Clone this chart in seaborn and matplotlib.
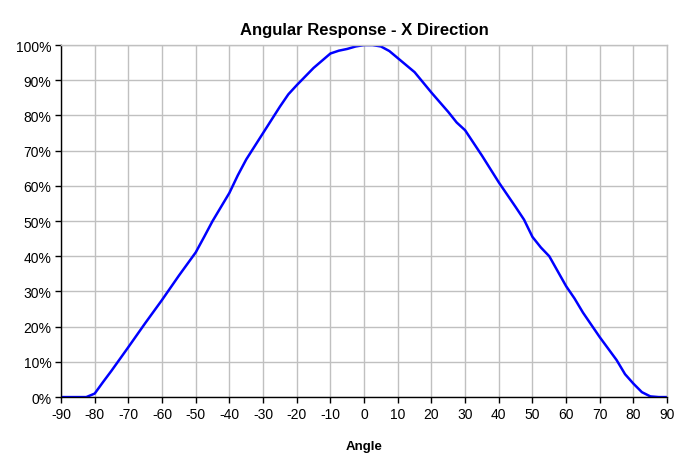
import numpy as np
import pandas as pd
import matplotlib
matplotlib.use("Agg")
import matplotlib.pyplot as plt
import seaborn as sns
from matplotlib.ticker import FuncFormatter, MultipleLocator

# Angular response (angle in degrees, response in %)
angles = [-90, -85, -82.5, -80, -77.5, -75, -70, -65, -60, -55, -50, -47.5,
          -45, -40, -37.5, -35, -30, -25, -22.5, -20, -15, -10, -7.5, -5,
          -2.5, 0, 2.5, 5, 7.5, 10, 15, 20, 25, 27.5, 30, 35, 40, 45, 47.5,
          50, 52.5, 55, 60, 62.5, 65, 70, 75, 77.5, 80, 82.5, 85, 87.5, 90]
response = [0, 0, 0, 1.0, 4.3, 7.5, 14.2, 21, 27.6, 34.5, 41.1, 45.5,
            50, 58, 63, 67.5, 75, 82.5, 86, 88.6, 93.5, 97.6, 98.4, 98.9,
            99.6, 100, 100, 99.6, 98.3, 96.3, 92.3, 86.5, 81, 78, 75.8, 68.6,
            61, 54, 50.4, 45.5, 42.5, 40, 31.5, 28, 24, 17, 10.5, 6.5, 3.8,
            1.4, 0.2, 0, 0]

df = pd.DataFrame({"Angle": angles, "Response": response})

sns.set_theme(style="white")
plt.rcParams["font.family"] = ["Liberation Sans", "DejaVu Sans"]
plt.rcParams["axes.unicode_minus"] = False
plt.rcParams["text.color"] = "black"
plt.rcParams["xtick.color"] = "black"
plt.rcParams["ytick.color"] = "black"
plt.rcParams["axes.labelcolor"] = "black"

fig = plt.figure(figsize=(6.78, 4.56), dpi=100)
ax = fig.add_axes([0.09, 0.127, 0.894, 0.772])

sns.lineplot(data=df, x="Angle", y="Response", color="#0000FF", linewidth=1.8, ax=ax)

ax.set_xlim(-90, 90)
ax.set_ylim(0, 100)
ax.xaxis.set_major_locator(MultipleLocator(10))
ax.yaxis.set_major_locator(MultipleLocator(10))
ax.yaxis.set_major_formatter(FuncFormatter(lambda v, p: f"{v:.0f}%"))

ax.grid(True, color="#c0c0c0", linewidth=1.0)
ax.set_axisbelow(True)
for side in ["top", "right"]:
    ax.spines[side].set_color("#c0c0c0")
    ax.spines[side].set_linewidth(1.0)
for side in ["left", "bottom"]:
    ax.spines[side].set_color("black")
    ax.spines[side].set_linewidth(1.0)

ax.tick_params(axis="both", direction="out", length=4, width=1, color="black",
               labelcolor="black", labelsize=10, pad=3, left=True, bottom=True)

ax.set_title("Angular Response - X Direction", fontsize=12, fontweight="bold",
             color="black", pad=8)
ax.set_xlabel("Angle", fontsize=9.5, fontweight="bold", labelpad=14)
ax.set_ylabel("")

fig.savefig("out.png", dpi=100)
